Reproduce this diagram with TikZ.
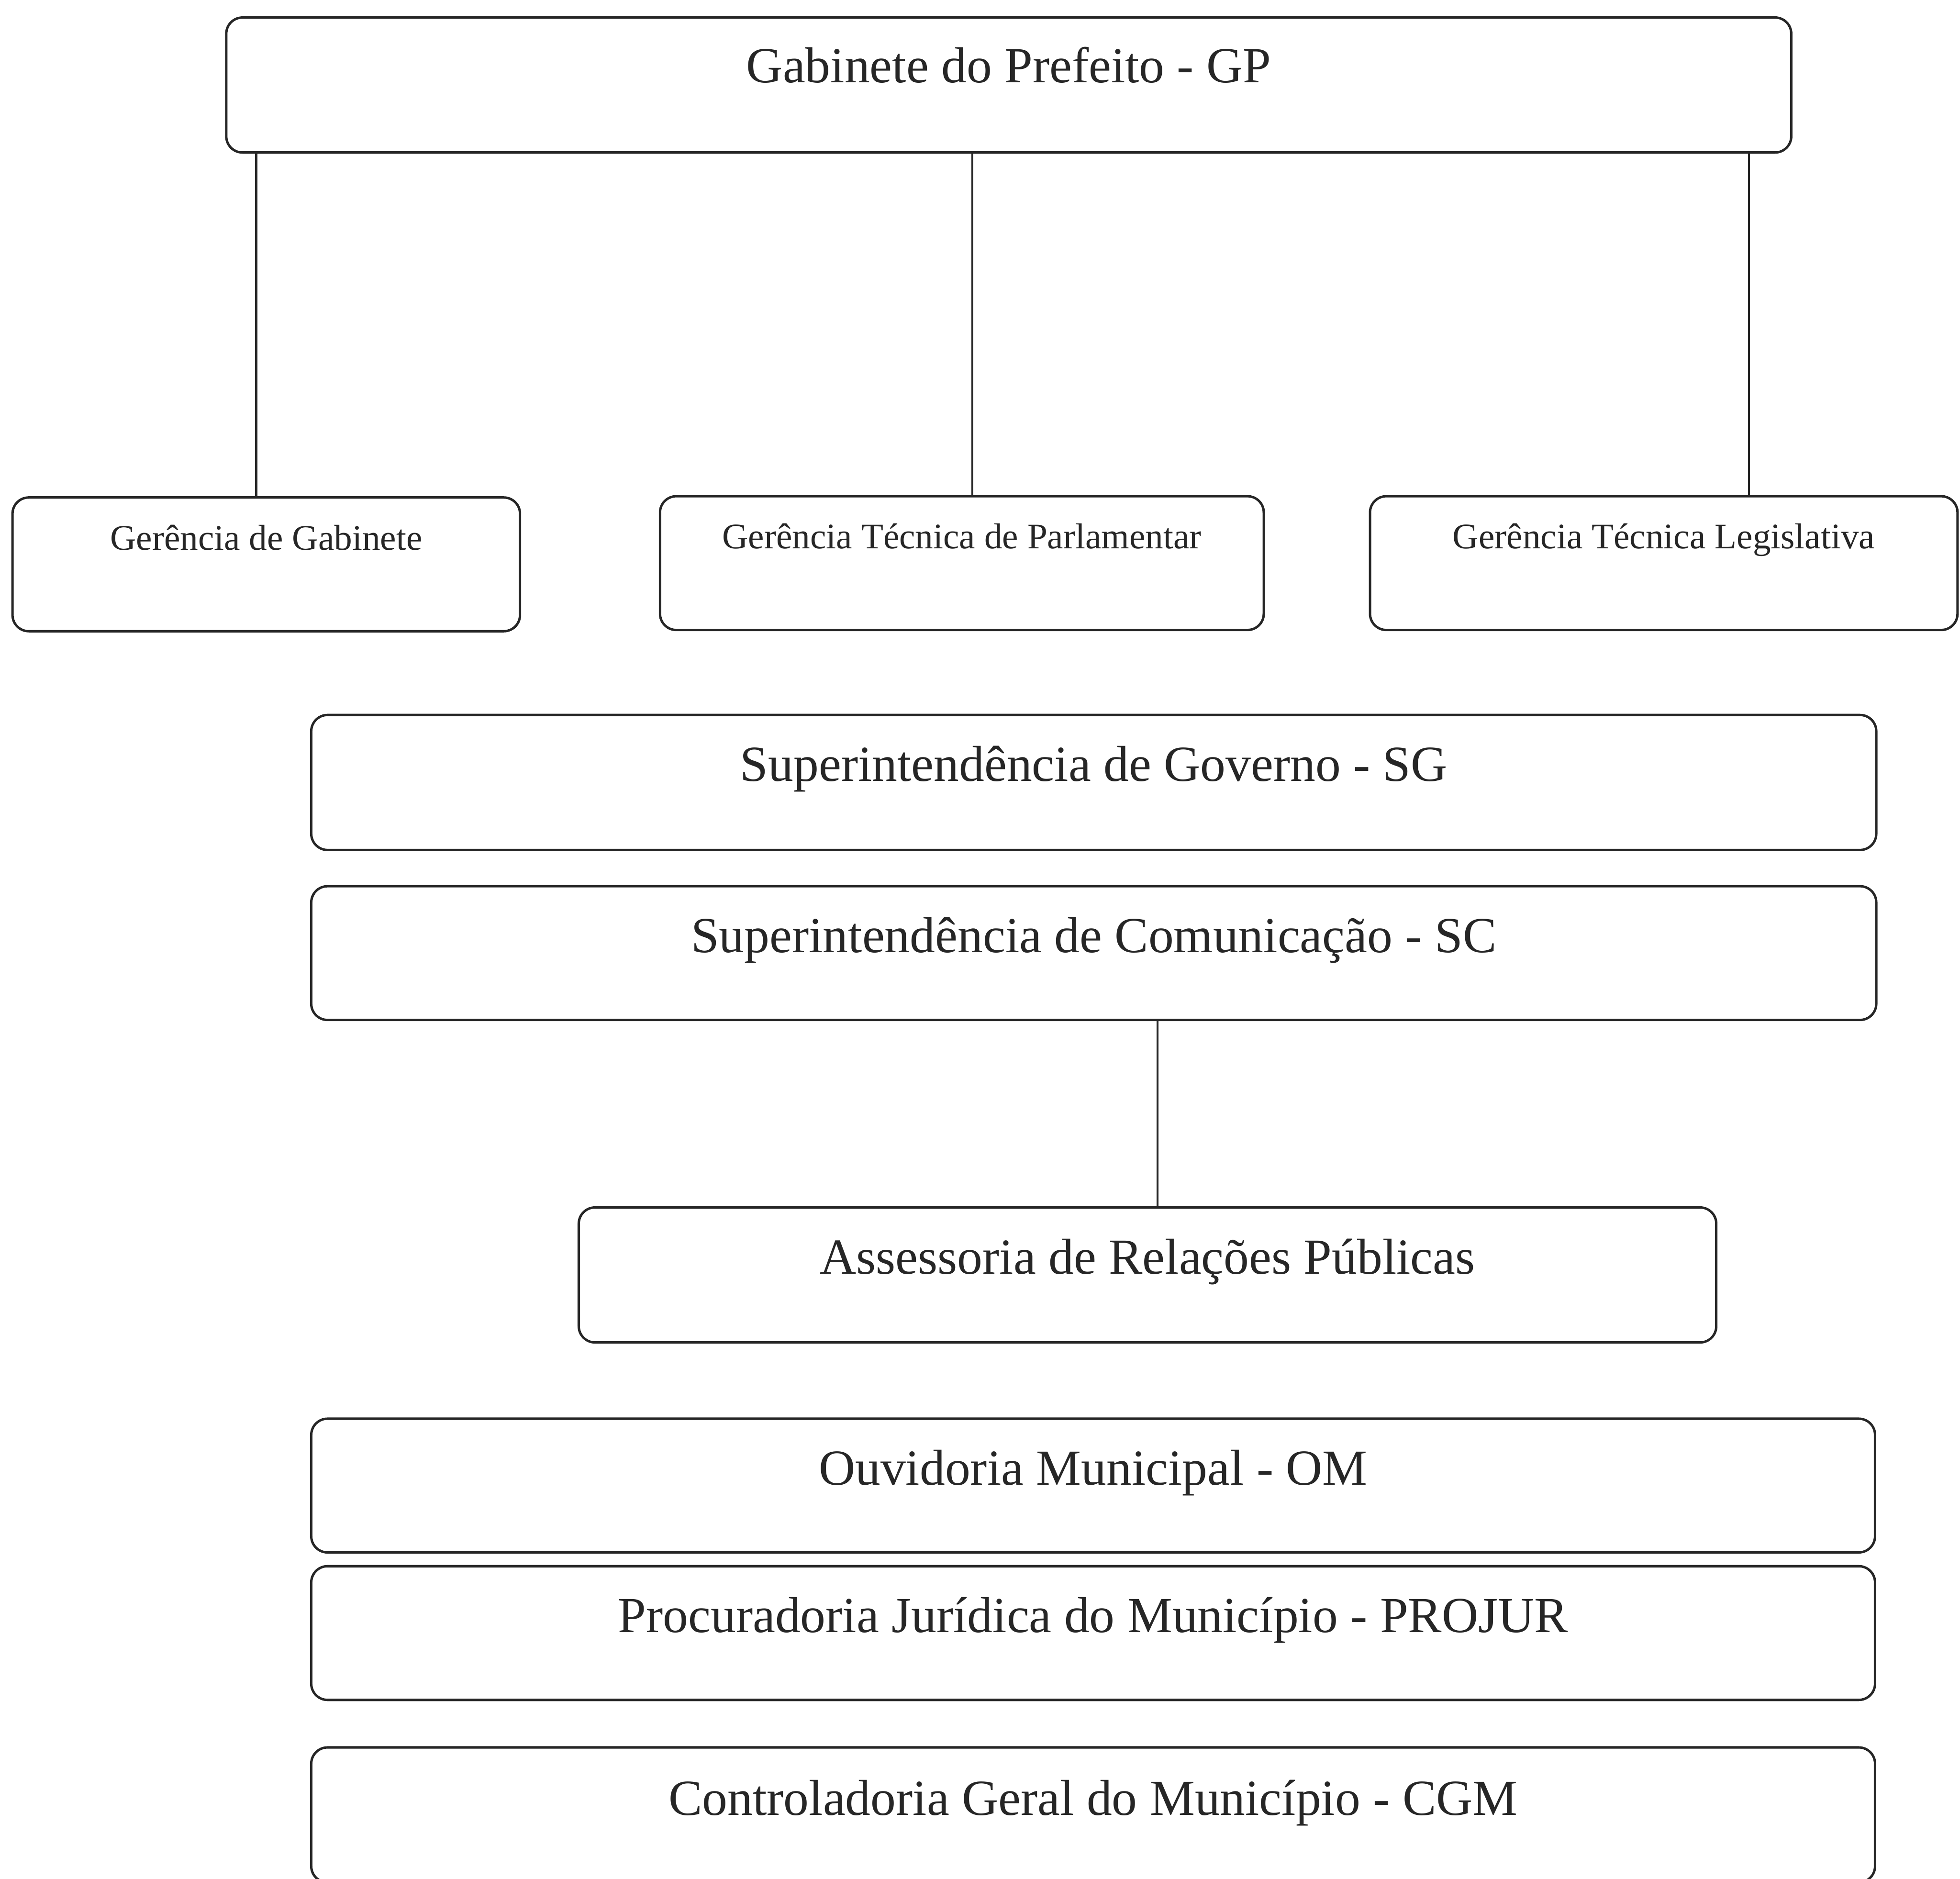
\documentclass[tikz,border=0pt]{standalone}
\usepackage{fontspec}
\setmainfont{Liberation Serif}
\begin{document}
\begin{tikzpicture}[x=1cm,y=1cm,
  box/.style={draw=black!85, line width=0.55pt, rounded corners=0.13cm, inner sep=0pt},
  bigtxt/.style={font=\fontsize{11.5}{13}\selectfont, text=black!85, inner sep=0pt, anchor=base},
  smalltxt/.style={font=\fontsize{8.2}{10}\selectfont, text=black!85, inner sep=0pt, anchor=base},
  link/.style={draw=black!85, line width=0.45pt}]
\useasboundingbox (0,0) rectangle (15.68,-15.03);

% top office
\node[box, minimum width=12.52cm, minimum height=1.08cm] (gp) at (8.07,-0.68) {};
\node[bigtxt, yshift=-0.53cm] (gpt) at (gp.north) {Gabinete do Prefeito - GP};

% management units under the cabinet
\node[box, minimum width=4.06cm, minimum height=1.07cm] (gg) at (2.13,-4.515) {};
\node[smalltxt, yshift=-0.43cm] (ggt) at (gg.north) {Gerência de Gabinete};
\node[box, minimum width=4.83cm, minimum height=1.07cm] (gtp) at (7.695,-4.505) {};
\node[smalltxt, yshift=-0.43cm] (gtpt) at (gtp.north) {Gerência Técnica de Parlamentar};
\node[box, minimum width=4.70cm, minimum height=1.07cm] (gtl) at (13.31,-4.505) {};
\node[smalltxt, yshift=-0.43cm] (gtlt) at (gtl.north) {Gerência Técnica Legislativa};

% vertical links from the cabinet
\coordinate (k1) at (2.05,0);
\coordinate (k2) at (7.78,0);
\coordinate (k3) at (13.99,0);
\draw[link] (k1 |- gp.south) -- (k1 |- gg.north);
\draw[link] (k2 |- gp.south) -- (k2 |- gtp.north);
\draw[link] (k3 |- gp.south) -- (k3 |- gtl.north);

% superintendencies
\node[box, minimum width=12.52cm, minimum height=1.08cm] (sg) at (8.75,-6.26) {};
\node[bigtxt, yshift=-0.54cm] (sgt) at (sg.north) {Superintendência de Governo - SG};
\node[box, minimum width=12.52cm, minimum height=1.07cm] (sc) at (8.75,-7.625) {};
\node[bigtxt, yshift=-0.54cm] (sct) at (sc.north) {Superintendência de Comunicação - SC};

% public relations
\node[box, minimum width=9.10cm, minimum height=1.08cm] (arp) at (9.18,-10.20) {};
\node[bigtxt, yshift=-0.54cm] (arpt) at (arp.north) {Assessoria de Relações Públicas};
\coordinate (k4) at (9.26,0);
\draw[link] (k4 |- sc.south) -- (k4 |- arp.north);

% other bodies
\node[box, minimum width=12.51cm, minimum height=1.07cm] (om) at (8.745,-11.885) {};
\node[bigtxt, yshift=-0.54cm] (omt) at (om.north) {Ouvidoria Municipal - OM};
\node[box, minimum width=12.51cm, minimum height=1.07cm] (pj) at (8.745,-13.065) {};
\node[bigtxt, yshift=-0.54cm] (pjt) at (pj.north) {Procuradoria Jurídica do Município - PROJUR};
\node[box, minimum width=12.51cm, minimum height=1.08cm] (cgm) at (8.745,-14.52) {};
\node[bigtxt, yshift=-0.55cm] (cgmt) at (cgm.north) {Controladoria Geral do Município - CGM};
\end{tikzpicture}
\end{document}
